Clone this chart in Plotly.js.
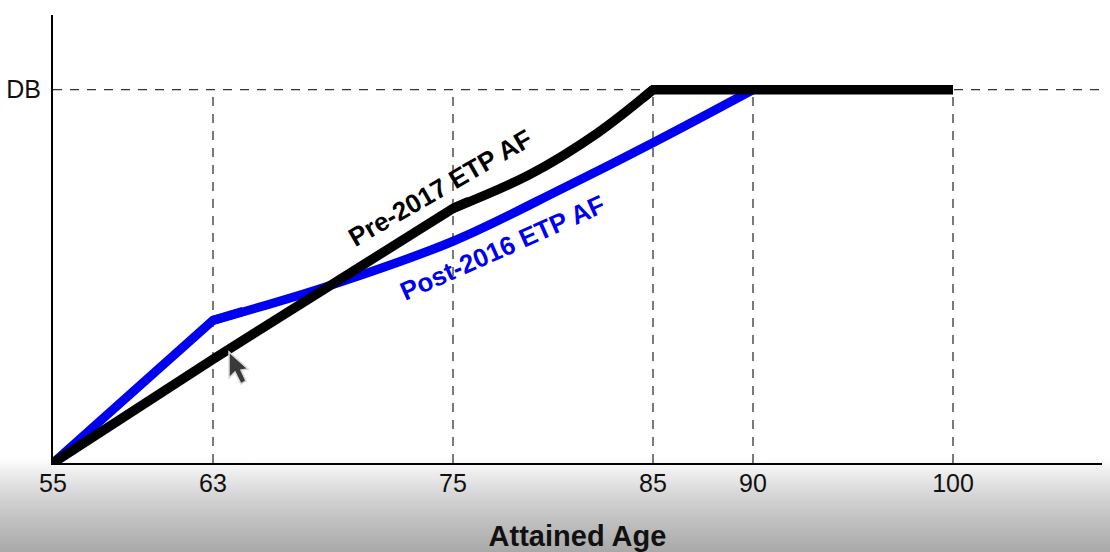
<!DOCTYPE html>
<html>
<head>
<meta charset="utf-8">
<script src="https://cdn.plot.ly/plotly-3.0.1.min.js"></script>
<style>
html,body{margin:0;padding:0;width:1110px;height:552px;overflow:hidden;background:#fff;}
#wrap{position:absolute;left:0;top:0;width:1110px;height:552px;
background:linear-gradient(to bottom,#ffffff 0px,#ffffff 458px,#f0f0f0 470px,#d6d6d6 495px,#bdbdbd 525px,#a9a9a9 552px);}
#chart{width:1110px;height:552px;}
</style>
</head>
<body>
<div id="wrap"><div id="chart"></div></div>
<script>
const tickAges = [55, 63, 75, 85, 90, 100];
const guideAges = [63, 75, 85, 90, 100];
const dbLevel = 100;
const xRange = [55, 107.45];
const yRange = [0, 120];
const preRampAges = [55, 63, 75, 75.8];
const preRampValues = [0, 27.8, 68.2, 70.1];
const preCurveAges = [75, 78.85, 82.2, 85];
const preCurveValues = [68.2, 77.3, 88.3, 100];
const preFlatAges = [84.5, 85, 100];
const preFlatValues = [97.8, 100, 100];
const postRampAges = [55, 63, 64.5];
const postRampValues = [0, 38.2, 40.6];
const postCurveAges = [63, 68.7, 75, 80.5, 85, 90];
const postCurveValues = [38.2, 47.3, 59.4, 73.6, 85.8, 100];

const guideX = [], guideY = [];
guideAges.forEach(a => { guideX.push(a, a, null); guideY.push(0, dbLevel, null); });

const dash = {color: '#222', width: 1.2, dash: '9px,8px'};
const blue = '#0000f0';
const seg = (x, y, color, width, shape) => ({x, y, mode: 'lines', cliponaxis: false, hoverinfo: 'skip', showlegend: false,
  line: shape === 'spline' ? {color, width, shape, smoothing: 1} : {color, width}});
const traces = [
  {x: guideX, y: guideY, mode: 'lines', line: dash, hoverinfo: 'skip', showlegend: false},
  {x: xRange, y: [dbLevel, dbLevel], mode: 'lines', line: {color: '#333', width: 1.2, dash: '9px,8px'}, hoverinfo: 'skip', showlegend: false},
  seg(postRampAges, postRampValues, blue, 9),
  seg(postCurveAges, postCurveValues, blue, 9, 'spline'),
  seg(preRampAges, preRampValues, '#000', 9.5),
  seg(preCurveAges, preCurveValues, '#000', 9.5, 'spline'),
  seg(preFlatAges, preFlatValues, '#000', 9.5)
];

const W = 1049, H = 448, L = 53, B = 463;
const pathPaper = pts => pts.map((p, i) => (i ? 'L' : 'M') + ((p[0] - L) / W).toFixed(4) + ',' + ((B - p[1]) / H).toFixed(4)).join(' ') + ' Z';
const cursorOutline = [[229,352],[229,378],[235,372],[241,384],[246,381],[241,370],[248,369]];

const layout = {
  width: 1110, height: 552,
  margin: {l: 53, r: 8, t: 15, b: 89, pad: 0},
  paper_bgcolor: 'rgba(0,0,0,0)',
  plot_bgcolor: 'rgba(0,0,0,0)',
  showlegend: false,
  font: {family: '"Liberation Sans", Arial, sans-serif', color: '#111'},
  xaxis: {
    range: xRange, tickmode: 'array', tickvals: tickAges, ticktext: tickAges.map(String),
    showgrid: false, zeroline: false, showline: true, linecolor: '#000', linewidth: 2,
    ticks: '', tickfont: {size: 25, color: '#111'}, ticklabelstandoff: -3,
    title: {text: '<b>Attained Age</b>', font: {size: 29, color: '#111'}, standoff: 30}
  },
  yaxis: {
    range: yRange, tickmode: 'array', tickvals: [dbLevel], ticktext: ['DB'],
    showgrid: false, zeroline: false, showline: true, linecolor: '#000', linewidth: 2,
    ticks: '', tickfont: {size: 25, color: '#111'}, ticklabelstandoff: 5
  },
  shapes: [
    {type: 'path', xref: 'paper', yref: 'paper', path: pathPaper(cursorOutline),
     fillcolor: '#3a3a3a', line: {color: '#d8d8d8', width: 1.5}, layer: 'above'}
  ],
  annotations: [
    {xref: 'paper', yref: 'paper', x: (440 - L) / W, y: (B - 188) / H, text: '<b>Pre-2017 ETP AF</b>',
     showarrow: false, textangle: -30, font: {size: 26, color: '#000'}},
    {xref: 'paper', yref: 'paper', x: (502 - L) / W, y: (B - 248) / H, text: '<b>Post-2016 ETP AF</b>',
     showarrow: false, textangle: -24, font: {size: 26, color: blue}}
  ]
};
Plotly.newPlot('chart', traces, layout, {displayModeBar: false, staticPlot: true});
</script>
</body>
</html>
